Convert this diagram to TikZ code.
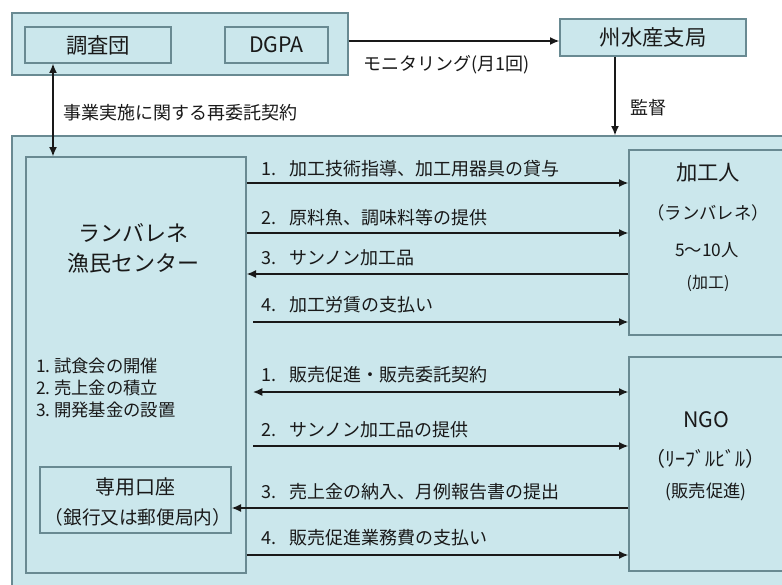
\documentclass[tikz,border=0pt]{standalone}
\usepackage{fontspec}
\setmainfont{Noto Sans CJK JP}
\usetikzlibrary{fit,arrows.meta}
\definecolor{boxfill}{RGB}{203,231,236}
\definecolor{boxline}{RGB}{105,138,146}
\definecolor{ink}{RGB}{25,25,25}
\tikzset{
 box/.style={draw=boxline, line width=1pt, fill=boxfill, inner sep=0pt},
 arr/.style={draw=ink, line width=1pt, -{Latex[length=7pt,width=6pt]}},
 darr/.style={draw=ink, line width=1pt, {Latex[length=7pt,width=6pt]}-{Latex[length=7pt,width=6pt]}},
 lbl/.style={text=ink, font=\fontsize{13.5pt}{15pt}\selectfont, inner sep=0pt, anchor=west},
 ttl/.style={text=ink, font=\fontsize{16pt}{19pt}\selectfont, inner sep=0pt},
 sub/.style={text=ink, font=\fontsize{13pt}{15pt}\selectfont, inner sep=0pt},
}
\begin{document}
\begin{tikzpicture}[x=0.75pt,y=-0.75pt]
\path[use as bounding box, clip] (0,0) rectangle (782,585);
\fill[white] (0,0) rectangle (782,585);
% top group
\node[box, fit={(12,13) (348,75)}] (top) {};
\node[box, fit={(25,27) (171,63)}] (chosa) {};
\node[ttl] at (chosa.center) {調査団};
\node[box, fit={(225,27) (328,63)}] (dgpa) {};
\node[ttl] at (dgpa.center) {DGPA};
\node[box, fit={(560,19) (746,56)}] (ssk) {};
\node[ttl] at (ssk.center) {州水産支局};
% main group
\node[box, fit={(12,136) (800,600)}] (main) {};
\node[box, fit={(26,157) (246,573)}] (ctr) {};
\node[ttl, align=center, font=\fontsize{16.5pt}{22.5pt}\selectfont] at (133,248) {ランバレネ\\漁民センター};
\node[sub, anchor=north west, align=left, font=\fontsize{13pt}{16.5pt}\selectfont] at (36,358) {1.\hspace{0.2em}試食会の開催\\2.\hspace{0.2em}売上金の積立\\3.\hspace{0.2em}開発基金の設置};
\node[box, fit={(40,467) (231,533)}] (acct) {};
\node[ttl, font=\fontsize{15pt}{18pt}\selectfont] at (135,487) {専用口座};
\node[sub, font=\fontsize{14pt}{16pt}\selectfont] at (138,517) {（銀行又は郵便局内）};
\node[box, fit={(629,150) (800,335)}] (kako) {};
\node[ttl] at (708,173) {加工人};
\node[sub] at (708,213) {（ランバレネ）};
\node[sub] at (707,250) {5〜10人};
\node[sub, font=\fontsize{12pt}{14pt}\selectfont] at (708,283) {(加工)};
\node[box, fit={(629,357) (800,571)}] (ngo) {};
\node[ttl] at (706,420) {NGO};
\node[sub, font=\fontsize{15pt}{17pt}\selectfont] at (705,459) {（ﾘｰﾌﾞﾙﾋﾞﾙ）};
\node[sub] at (706,492) {(販売促進)};
% coordinates
\coordinate (y40) at (400,41);
\coordinate (x53) at (53,100);
\coordinate (x615) at (615,100);
\coordinate (c1) at (400,183);
\coordinate (c2) at (400,233);
\coordinate (c3) at (400,274);
\coordinate (c4) at (253,322);
\coordinate (d1) at (253,392);
\coordinate (d2) at (253,446);
\coordinate (d3) at (400,508);
\coordinate (d4) at (400,555);
% connectors
\draw[arr] (top.east |- y40) -- (ssk.west |- y40);
\node[lbl] at (363,65) {モニタリング(月1回)};
\draw[arr] (ssk.south -| x615) -- (main.north -| x615);
\node[lbl] at (630,108) {監督};
\draw[darr] (chosa.south -| x53) -- (ctr.north -| x53);
\node[lbl] at (63,113) {事業実施に関する再委託契約};
\draw[arr] (ctr.east |- c1) -- (kako.west |- c1);
\node[lbl] at (261,169) {1.\hspace{0.75em}加工技術指導、加工用器具の貸与};
\draw[arr] (ctr.east |- c2) -- (kako.west |- c2);
\node[lbl] at (261,218) {2.\hspace{0.75em}原料魚、調味料等の提供};
\draw[arr] (kako.west |- c3) -- (ctr.east |- c3);
\node[lbl] at (261,258) {3.\hspace{0.75em}サンノン加工品};
\draw[arr] (c4) -- (kako.west |- c4);
\node[lbl] at (261,305) {4.\hspace{0.75em}加工労賃の支払い};
\draw[darr] (d1) -- (ngo.west |- d1);
\node[lbl] at (261,375) {1.\hspace{0.75em}販売促進・販売委託契約};
\draw[arr] (d2) -- (ngo.west |- d2);
\node[lbl] at (261,430) {2.\hspace{0.75em}サンノン加工品の提供};
\draw[arr] (ngo.west |- d3) -- (acct.east |- d3);
\node[lbl] at (261,492) {3.\hspace{0.75em}売上金の納入、月例報告書の提出};
\draw[arr] (ctr.east |- d4) -- (ngo.west |- d4);
\node[lbl] at (261,538) {4.\hspace{0.75em}販売促進業務費の支払い};
\end{tikzpicture}
\end{document}
